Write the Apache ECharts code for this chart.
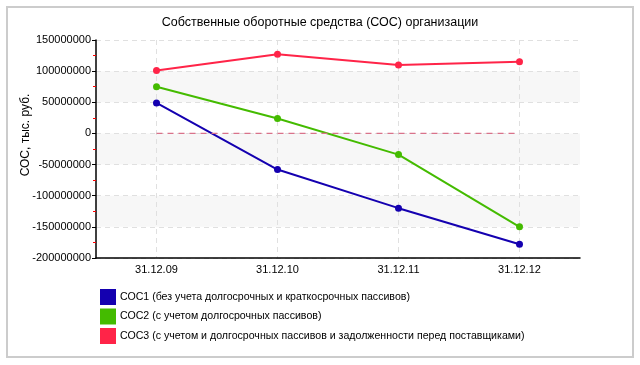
<!DOCTYPE html>
<html>
<head>
<meta charset="utf-8">
<script src="https://cdn.jsdelivr.net/npm/echarts@6/dist/echarts.min.js"></script>
<style>html,body{margin:0;padding:0;background:#fff}#c{width:640px;height:365px}</style>
</head>
<body>
<div id="c"></div>
<script>
var categories = ['31.12.09', '31.12.10', '31.12.11', '31.12.12'];
var seriesNames = [
  'СОС1 (без учета долгосрочных и краткосрочных пассивов)',
  'СОС2 (с учетом долгосрочных пассивов)',
  'СОС3 (с учетом и долгосрочных пассивов и задолженности перед поставщиками)'
];
var coc1 = [49000000, -58000000, -120000000, -178000000];
var coc2 = [75000000, 24000000, -34000000, -150000000];
var coc3 = [101000000, 127000000, 110000000, 115000000];
var zeroLine = [0, 0, 0, 0];
var titleText = 'Собственные оборотные средства (СОС) организации';
var yAxisName = 'СОС, тыс. руб.';

var font = 'Liberation Sans';
var colors = ['#1400b0', '#44bb00', '#ff2448'];
var chart = echarts.init(document.getElementById('c'), null, {renderer: 'canvas'});

function lineSeries(name, data, color) {
  return {
    name: name, type: 'line', data: data,
    symbol: 'circle', symbolSize: 7,
    lineStyle: {color: color, width: 2},
    itemStyle: {color: color},
    z: 3, animation: false
  };
}

chart.setOption({
  animation: false,
  color: colors,
  title: {
    text: titleText, left: 'center', top: 11,
    textStyle: {fontFamily: font, fontSize: 12.5, fontWeight: 'normal', color: '#000'}
  },
  legend: {
    orient: 'vertical', left: 100, top: 289, padding: 0,
    itemWidth: 16, itemHeight: 16, itemGap: 3.5,
    icon: 'rect',
    data: seriesNames,
    textStyle: {fontFamily: font, fontSize: 10.6, color: '#000', padding: [0, 0, 0, -1]}
  },
  grid: {left: 96, right: 60, top: 40, bottom: 107, containLabel: false},
  xAxis: {
    type: 'category', data: categories, boundaryGap: true,
    axisLine: {onZero: false, lineStyle: {color: '#000', width: 1.5}},
    axisTick: {alignWithLabel: true, length: 4, lineStyle: {color: '#000'}},
    axisLabel: {fontFamily: font, fontSize: 11, color: '#000', margin: 6},
    splitLine: {show: true, alignWithLabel: true, lineStyle: {color: '#e0e0e0', type: [5, 4]}}
  },
  yAxis: {
    type: 'value', min: -200000000, max: 150000000, interval: 50000000,
    axisLine: {show: true, lineStyle: {color: '#000', width: 1.5}},
    axisTick: {show: true, length: 4, lineStyle: {color: '#000'}},
    minorTick: {show: true, splitNumber: 2, length: 3, lineStyle: {color: '#ff0000'}},
    axisLabel: {fontFamily: font, fontSize: 11, color: '#000', margin: 5,
      formatter: function (v) { return String(v); }},
    splitLine: {show: true, lineStyle: {color: '#e0e0e0', type: [5, 4]}},
    splitArea: {show: true, areaStyle: {color: ['rgba(255,255,255,0)', '#f7f7f7']}}
  },
  graphic: [
    {type: 'rect', shape: {x: 7, y: 7, width: 626, height: 350}, style: {fill: 'none', stroke: '#cccccc', lineWidth: 2}, silent: true},
    {type: 'text', x: 26, y: 135, rotation: Math.PI / 2,
     style: {text: yAxisName, font: '12px "' + font + '"', fill: '#000', textAlign: 'center', textVerticalAlign: 'middle'}}
  ],
  series: [
    {name: 'zero', type: 'line', data: zeroLine, symbol: 'none', silent: true,
     itemStyle: {color: '#d9728a'},
     lineStyle: {color: '#d9728a', width: 1.2, type: [6, 5]}, z: 4},
    lineSeries(seriesNames[0], coc1, colors[0]),
    lineSeries(seriesNames[1], coc2, colors[1]),
    lineSeries(seriesNames[2], coc3, colors[2])
  ]
});
</script>
</body>
</html>
